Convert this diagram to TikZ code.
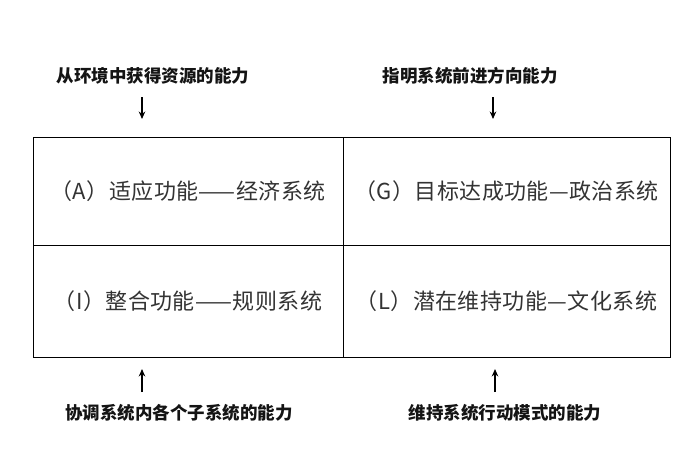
\documentclass[tikz,border=0pt]{standalone}
\usepackage{fontspec}
\newfontfamily\cjk{Noto Sans CJK SC}
\newfontfamily\cjkcell[LetterSpace=2]{Noto Sans CJK SC}
\usetikzlibrary{arrows.meta}
\begin{document}
\begin{tikzpicture}[x=1pt,y=-1pt,
  cell/.style={draw=black,line width=1pt,inner sep=0pt,text=black!80,
    font=\cjkcell\fontsize{22}{26}\selectfont},
  lab/.style={inner sep=0pt,font=\cjk\bfseries\fontsize{17.5}{20}\selectfont,text=black!92},
  arr/.style={line width=1.4pt,-{Stealth[length=7.5pt,width=6.5pt]}}]
\useasboundingbox[fill=white] (0,0) rectangle (700,459);
% cells
\node[cell,minimum width=310pt,minimum height=108pt] (A) at (188,191) {（A）适应功能——经济系统};
\node[cell,minimum width=327pt,minimum height=108pt] (G) at (506.5,191) {（G）目标达成功能—政治系统};
\node[cell,minimum width=310pt,minimum height=112pt] (I) at (188,301) {（I）整合功能——规则系统};
\node[cell,minimum width=327pt,minimum height=112pt] (L) at (506.5,301) {（L）潜在维持功能—文化系统};
% labels
\node[lab] (tA) at (153,76) {从环境中获得资源的能力};
\node[lab] (tG) at (470,76) {指明系统前进方向能力};
\node[lab] (bI) at (179,413) {协调系统内各个子系统的能力};
\node[lab] (bL) at (505,413) {维持系统行动模式的能力};
% arrows
\coordinate (a1s) at (142,97);  \coordinate (a1e) at (142,119);
\coordinate (a2s) at (493,97);  \coordinate (a2e) at (493,119);
\coordinate (a3s) at (142,392); \coordinate (a3e) at (142,369);
\coordinate (a4s) at (495,392); \coordinate (a4e) at (495,369);
\draw[arr] (a1s) -- (a1e);
\draw[arr] (a2s) -- (a2e);
\draw[arr] (a3s) -- (a3e);
\draw[arr] (a4s) -- (a4e);
\end{tikzpicture}
\end{document}
